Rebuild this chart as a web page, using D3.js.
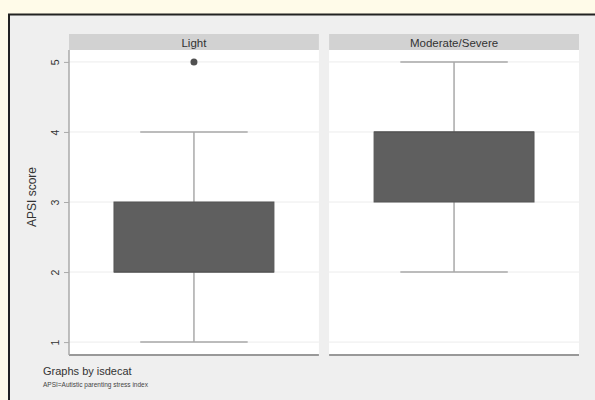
<!DOCTYPE html>
<html>
<head>
<meta charset="utf-8">
<script src="https://cdn.jsdelivr.net/npm/d3@7"></script>
<style>
  html, body { margin: 0; padding: 0; background: #fffbe9; }
  svg { display: block; font-family: "Liberation Sans", Arial, sans-serif; }
</style>
</head>
<body>
<svg id="chart" width="595" height="400"></svg>
<script>
// Panel categories and their box-plot summaries (APSI score)
const categories = ["Light", "Moderate/Severe"];
const whiskerLow  = [1, 2];
const quartile1   = [2, 3];
const medians     = [2, 4];
const quartile3   = [3, 4];
const whiskerHigh = [4, 5];
const outliers    = [[5], []];
const yTicks = [1, 2, 3, 4, 5];

const svg = d3.select("#chart");

// Outer frame
svg.append("rect").attr("x", 0).attr("y", 0).attr("width", 595).attr("height", 400).attr("fill", "#fffbe9");
svg.append("rect").attr("x", 9).attr("y", 14.5).attr("width", 600).attr("height", 400)
  .attr("fill", "#efefef").attr("stroke", "#222").attr("stroke-width", 2);

const plotTop = 50, plotBottom = 354;
const y = d3.scaleLinear().domain([0.83, 5.17]).range([plotBottom, plotTop]);

const panels = d3.scaleBand().domain(categories).range([69, 579]).paddingInner(10 / 255);

categories.forEach((cat, i) => {
  const x0 = panels(cat), w = panels.bandwidth();
  const g = svg.append("g").attr("transform", `translate(${x0},0)`);

  // strip header
  g.append("rect").attr("x", 0).attr("y", 34).attr("width", w).attr("height", 16).attr("fill", "#d2d2d2");
  g.append("text").attr("x", w / 2).attr("y", 46.5).attr("text-anchor", "middle")
    .attr("font-size", 11.5).attr("fill", "#333").text(cat);

  // plot region
  g.append("rect").attr("x", 0).attr("y", plotTop).attr("width", w).attr("height", plotBottom - plotTop).attr("fill", "#ffffff");

  // gridlines
  g.selectAll("line.grid").data(yTicks).join("line").attr("class", "grid")
    .attr("x1", 0).attr("x2", w).attr("y1", d => y(d)).attr("y2", d => y(d))
    .attr("stroke", "#ececec").attr("stroke-width", 1);

  // bottom axis line
  g.append("line").attr("x1", 0).attr("x2", w).attr("y1", plotBottom + 1).attr("y2", plotBottom + 1)
    .attr("stroke", "#999").attr("stroke-width", 2);

  // box plot
  const bx = d3.scaleLinear().domain([0, 1]).range([0, w]);
  const cx = bx(0.5), boxW = bx(0.64) - bx(0), capW = bx(0.43) - bx(0);
  const stroke = "#a9a9a9";
  g.append("line").attr("x1", cx).attr("x2", cx).attr("y1", y(whiskerLow[i])).attr("y2", y(quartile1[i]))
    .attr("stroke", stroke).attr("stroke-width", 1.5);
  g.append("line").attr("x1", cx).attr("x2", cx).attr("y1", y(quartile3[i])).attr("y2", y(whiskerHigh[i]))
    .attr("stroke", stroke).attr("stroke-width", 1.5);
  [whiskerLow[i], whiskerHigh[i]].forEach(v => {
    g.append("line").attr("x1", cx - capW / 2).attr("x2", cx + capW / 2).attr("y1", y(v)).attr("y2", y(v))
      .attr("stroke", stroke).attr("stroke-width", 1.5);
  });
  g.append("rect").attr("x", cx - boxW / 2).attr("y", y(quartile3[i]))
    .attr("width", boxW).attr("height", y(quartile1[i]) - y(quartile3[i]))
    .attr("fill", "#5f5f5f").attr("stroke", "#555").attr("stroke-width", 1);
  g.append("line").attr("x1", cx - boxW / 2).attr("x2", cx + boxW / 2).attr("y1", y(medians[i])).attr("y2", y(medians[i]))
    .attr("stroke", "#555").attr("stroke-width", 1);
  g.selectAll("circle.out").data(outliers[i]).join("circle").attr("class", "out")
    .attr("cx", cx).attr("cy", d => y(d)).attr("r", 3.5).attr("fill", "#505050");
});

// y axis with rotated tick labels
const axis = svg.append("g").attr("transform", "translate(69,0)")
  .call(d3.axisLeft(y).tickValues(yTicks).tickSize(5).tickFormat(d3.format("d")));
axis.select(".domain").attr("stroke", "#aaa").attr("stroke-width", 1.5)
  .attr("d", `M0,${plotTop}V${plotBottom + 1}`);
axis.selectAll(".tick line").attr("stroke", "#aaa");
axis.selectAll(".tick text")
  .attr("fill", "#333").attr("font-size", 10.5)
  .attr("font-family", "'Liberation Sans', Arial, sans-serif")
  .attr("text-anchor", "middle")
  .attr("transform", "rotate(-90)")
  .attr("x", 0).attr("y", -14).attr("dy", "0.35em");

svg.append("text").attr("transform", "translate(36,197) rotate(-90)")
  .attr("text-anchor", "middle").attr("font-size", 12).attr("fill", "#333").text("APSI score");

svg.append("text").attr("x", 43).attr("y", 375).attr("font-size", 11).attr("fill", "#333").text("Graphs by isdecat");
svg.append("text").attr("x", 43).attr("y", 387).attr("font-size", 6.5).attr("fill", "#444")
  .text("APSI=Autistic parenting stress index");
</script>
</body>
</html>
